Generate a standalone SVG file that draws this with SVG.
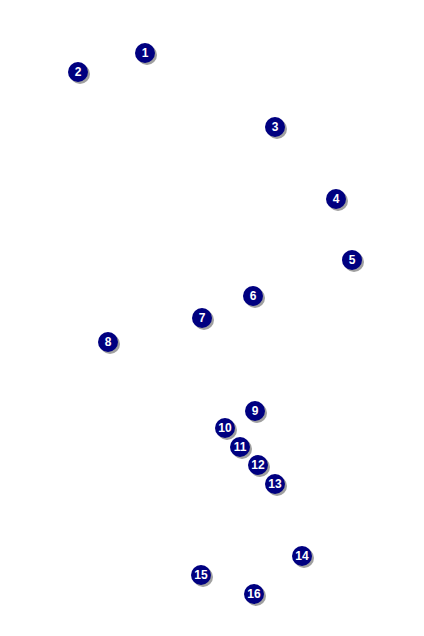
<svg xmlns="http://www.w3.org/2000/svg" width="424" height="636" viewBox="0 0 424 636">
<style>
.sh{fill:#a0a0a0}
.c{fill:#000080}
.t{fill:#fff;font-family:"Liberation Sans",Arial,sans-serif;font-weight:bold;font-size:12px;text-anchor:middle}
</style>
<defs>
<g id="m"><circle class="sh" cx="2" cy="2" r="10"/><circle class="c" cx="0" cy="0" r="10"/></g>
</defs>
<rect width="424" height="636" fill="#fff"/>
<g id="n1" transform="translate(145,53)"><use href="#m"/><text class="t" y="4">1</text></g>
<g id="n2" transform="translate(78,72)"><use href="#m"/><text class="t" y="4">2</text></g>
<g id="n3" transform="translate(275,127)"><use href="#m"/><text class="t" y="4">3</text></g>
<g id="n4" transform="translate(336,199)"><use href="#m"/><text class="t" y="4">4</text></g>
<g id="n5" transform="translate(352,260)"><use href="#m"/><text class="t" y="4">5</text></g>
<g id="n6" transform="translate(253,296)"><use href="#m"/><text class="t" y="4">6</text></g>
<g id="n7" transform="translate(202,318)"><use href="#m"/><text class="t" y="4">7</text></g>
<g id="n8" transform="translate(108,342)"><use href="#m"/><text class="t" y="4">8</text></g>
<g id="n9" transform="translate(255,411)"><use href="#m"/><text class="t" y="4">9</text></g>
<g id="n10" transform="translate(225,428)"><use href="#m"/><text class="t" y="4">10</text></g>
<g id="n11" transform="translate(240,447)"><use href="#m"/><text class="t" y="4">11</text></g>
<g id="n12" transform="translate(258,465)"><use href="#m"/><text class="t" y="4">12</text></g>
<g id="n13" transform="translate(275,484)"><use href="#m"/><text class="t" y="4">13</text></g>
<g id="n14" transform="translate(302,556)"><use href="#m"/><text class="t" y="4">14</text></g>
<g id="n15" transform="translate(201,575)"><use href="#m"/><text class="t" y="4">15</text></g>
<g id="n16" transform="translate(254,594)"><use href="#m"/><text class="t" y="4">16</text></g>
<g id="connectors"/>
</svg>
